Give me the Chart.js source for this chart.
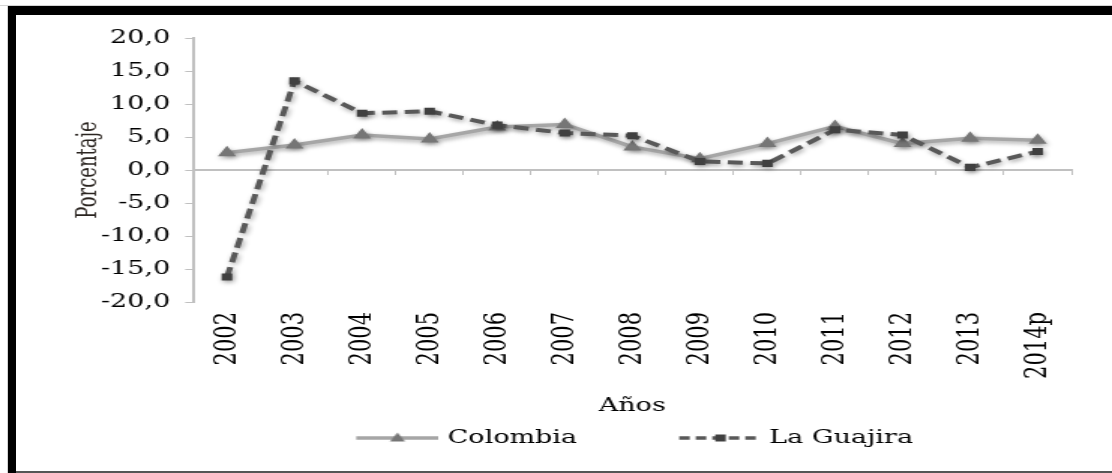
<!DOCTYPE html>
<html><head><meta charset="utf-8">
<script src="https://cdn.jsdelivr.net/npm/chart.js@4.4.1/dist/chart.umd.min.js"></script>
<style>
html,body{margin:0;padding:0;background:#fff;}
#wrap{position:relative;width:1112px;height:473px;overflow:hidden;background:#fff;}
#c{position:absolute;left:0;top:0;width:1112px;height:473px;}
.band{position:absolute;}
</style></head><body>
<div id="wrap">
<canvas id="c" width="741" height="473" style="width:1112px;height:473px"></canvas>
<div class="band" style="left:0;top:5px;width:1112px;height:1px;background:#d4d4d4"></div>
<div class="band" style="left:8px;top:6px;width:1104px;height:9px;background:#000"></div>
<div class="band" style="left:8px;top:6px;width:8px;height:467px;background:#000"></div>
<div class="band" style="left:7px;top:6px;width:1px;height:467px;background:#d4d4d4"></div>
<div class="band" style="left:16px;top:471px;width:1096px;height:2px;background:#555"></div>
</div>
<script>
// ---- data ----
const categories = ['2002','2003','2004','2005','2006','2007','2008','2009','2010','2011','2012','2013','2014p'];
const colombia  = [2.6, 3.8, 5.3, 4.7, 6.5, 6.9, 3.5, 1.7, 4.0, 6.6, 4.0, 4.8, 4.5];
const laGuajira = [-16.2, 13.5, 8.6, 8.9, 6.8, 5.6, 5.2, 1.3, 1.0, 6.1, 5.3, 0.4, 2.8];
const seriesNames = ['Colombia', 'La Guajira'];
const yMin = -20, yMax = 20, yStep = 5;
const yTitle = 'Porcentaje';
const xTitle = 'Años';

// ---- styles ----
const FONT = 'DejaVu Serif';
const TXT = '#000';
const AXIS = '#c0c0c0';
const colColor = '#a6a6a6', colMarker = '#767676';
const guaColor = '#595959', guaMarker = '#404040';

// legend sample glyphs (line + marker), drawn as point-style images
function sample(kind){
  const cv = document.createElement('canvas');
  const lead = kind === 0 ? 6 : (kind === 1 ? 8 : 0);
  cv.width = 55 + lead; cv.height = 18;
  const g = cv.getContext('2d');
  g.lineWidth = 3.5;
  const cx = lead + 27.5;
  if (kind === 0){
    g.strokeStyle = colColor;
    g.beginPath(); g.moveTo(lead,9); g.lineTo(lead+55,9); g.stroke();
    g.fillStyle = colMarker;
    g.beginPath(); g.moveTo(cx,3.5); g.lineTo(cx+5,12.5); g.lineTo(cx-5,12.5); g.closePath(); g.fill();
  } else if (kind === 1) {
    g.strokeStyle = guaColor;
    g.setLineDash([7,4]);
    g.beginPath(); g.moveTo(lead,9); g.lineTo(lead+55,9); g.stroke();
    g.fillStyle = guaMarker;
    g.fillRect(cx-3.5,5.5,7,7);
  }
  return cv;
}
const samples = [sample(0), sample(1)];
const blank = sample(2);

const shadowPlugin = {
  id: 'softShadow',
  beforeDatasetDraw(chart){ const c = chart.ctx; c.save(); c.shadowColor='rgba(0,0,0,0.35)'; c.shadowBlur=4; c.shadowOffsetX=1; c.shadowOffsetY=2; },
  afterDatasetDraw(chart){ chart.ctx.restore(); }
};

const chart = new Chart(document.getElementById('c'), {
  type: 'line',
  data: {
    labels: categories,
    datasets: [
      { label: seriesNames[0], data: colombia, xAxisID: 'x', yAxisID: 'y', order: 1,
        borderColor: colColor, borderWidth: 3.5, tension: 0,
        pointStyle: 'triangle', pointRadius: 7, pointBackgroundColor: colMarker, pointBorderColor: colMarker, pointBorderWidth: 0 },
      { label: seriesNames[1], data: laGuajira, xAxisID: 'x', yAxisID: 'y', order: 0,
        borderColor: guaColor, borderWidth: 4, borderDash: [10,5], tension: 0,
        pointStyle: 'rect', pointRadius: 5, pointBackgroundColor: guaMarker, pointBorderColor: guaMarker, pointBorderWidth: 0 }
    ]
  },
  options: {
    responsive: false,
    devicePixelRatio: 1,
    animation: false,
    events: [],
    layout: { padding: { top: 38, left: 0, right: 27, bottom: 16 } },
    plugins: {
      tooltip: { enabled: false },
      legend: {
        position: 'bottom',
        fullSize: false,
        labels: {
          usePointStyle: true,
          pointStyleWidth: 55,
          boxHeight: 18,
          padding: 0,
          color: TXT,
          font: { family: FONT, size: 18 },
          generateLabels(ch){
            const items = Chart.defaults.plugins.legend.labels.generateLabels(ch);
            items.sort((a,b) => a.datasetIndex - b.datasetIndex);
            items.forEach(it => { it.pointStyle = samples[it.datasetIndex]; it.fontColor = TXT; });
            // invisible spacer between the two entries
            items.splice(1, 0, { text: '', pointStyle: blank, fillStyle: 'rgba(0,0,0,0)', strokeStyle: 'rgba(0,0,0,0)', lineWidth: 0, hidden: false, fontColor: TXT });
            return items;
          }
        }
      }
    },
    scales: {
      x: {
        type: 'category',
        position: { y: 0 },
        offset: true,
        ticks: { display: false },
        grid: { offset: true, drawOnChartArea: false, drawTicks: true, tickLength: 4, color: AXIS, lineWidth: 1 },
        border: { color: AXIS, width: 2 }
      },
      x2: {
        type: 'category',
        labels: categories,
        position: 'bottom',
        offset: true,
        grid: { display: false, drawTicks: false },
        border: { display: false },
        ticks: { autoSkip: false, minRotation: 90, maxRotation: 90, padding: 10, color: TXT, font: { family: FONT, size: 21 } },
        title: { display: true, text: xTitle, color: TXT, font: { family: FONT, size: 18 }, padding: { top: 0, bottom: 12 } },
        afterFit(s){ s.height = 127; }
      },
      y: {
        min: yMin, max: yMax,
        ticks: { stepSize: yStep, padding: 10, color: TXT, font: { family: FONT, size: 18 },
                 callback: v => Number(v).toFixed(1).replace('.', ',') },
        grid: { drawOnChartArea: false, drawTicks: true, tickLength: 5.3, color: AXIS, lineWidth: 1 },
        border: { color: AXIS, width: 2 },
        title: { display: true, text: yTitle, color: '#2a2420', font: { family: FONT, size: 18 }, padding: { top: 49, bottom: 0 } },
        afterFit(s){ s.width = 128.7; }
      }
    }
  },
  plugins: [shadowPlugin]
});
const cv = document.getElementById('c');
cv.style.width = '1112px';
cv.style.height = '473px';
</script>
</body></html>
